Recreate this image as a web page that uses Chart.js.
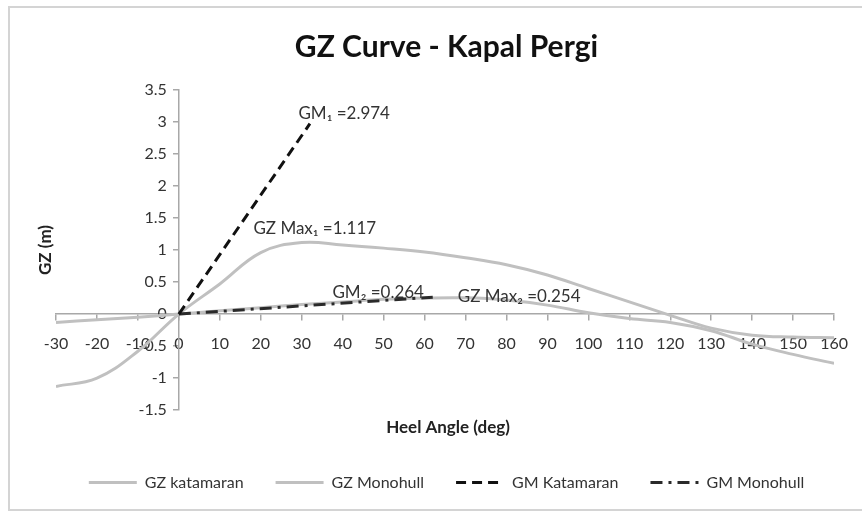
<!DOCTYPE html>
<html>
<head>
<meta charset="utf-8">
<script src="https://cdn.jsdelivr.net/npm/chart.js@4"></script>
<style>
  html, body { margin: 0; padding: 0; background: #fff; }
  #wrap { width: 862px; height: 511px; }
</style>
</head>
<body>
<div id="wrap"><canvas id="gzChart" width="862" height="511"></canvas></div>
<script>
// heel angles (deg)
const angles = [-30, -20, -10, 0, 10, 20, 30, 40, 50, 60, 70, 80, 90, 100, 110, 120, 130, 140, 150, 160];
const gzKatamaran = [-1.13, -1.0, -0.58, 0, 0.47, 0.96, 1.117, 1.08, 1.03, 0.97, 0.88, 0.77, 0.61, 0.4, 0.19, -0.02, -0.22, -0.33, -0.36, -0.37];
const gzMonohull = [-0.13, -0.09, -0.05, 0, 0.05, 0.1, 0.15, 0.19, 0.23, 0.25, 0.254, 0.22, 0.14, 0.02, -0.07, -0.13, -0.26, -0.47, -0.63, -0.77];
// GM lines: start and end points
const gmKatAngles = [0, 32];
const gmKatValues = [0, 2.974];
const gmMonoAngles = [0, 62];
const gmMonoValues = [0, 0.264];

const seriesNames = ["GZ katamaran", "GZ Monohull", "GM Katamaran", "GM Monohull"];

// text labels on the plot, anchored in data units (left edge, middle)
const noteTexts = ["GM\u2081 =2.974", "GZ Max\u2081 =1.117", "GM\u2082 =0.264", "GZ Max\u2082 =0.254"];
const noteX = [29.2, 18.2, 37.5, 68.1];
const noteY = [3.14, 1.34, 0.33, 0.27];

const pts = (xs, ys) => xs.map((x, i) => ({ x: x, y: ys[i] }));

const FONT = "Lato, 'Liberation Sans', sans-serif";
const textColor = "#333333";
const axisColor = "#a8a8a8";

const extras = {
  id: "extras",
  beforeDraw(chart) {
    const c = chart.ctx;
    c.save();
    c.fillStyle = "#fff";
    c.fillRect(0, 0, chart.width, chart.height);
    c.strokeStyle = "#d4d4d4";
    c.lineWidth = 2;
    c.strokeRect(9, 7, 900, 503);
    c.restore();
  },
  afterDraw(chart) {
    const c = chart.ctx;
    const xs = chart.scales.x, ys = chart.scales.y;
    const area = chart.chartArea;
    c.save();
    c.fillStyle = textColor;
    c.font = "17px " + FONT;
    c.textAlign = "left";
    c.textBaseline = "middle";
    noteTexts.forEach((t, i) => {
      c.fillText(t, xs.getPixelForValue(noteX[i]), ys.getPixelForValue(noteY[i]));
    });
    // axis titles
    c.fillStyle = "#222";
    c.font = "bold 17px " + FONT;
    c.textAlign = "center";
    c.fillText("Heel Angle (deg)", 448, area.bottom + 17);
    c.translate(46, 250);
    c.rotate(-Math.PI / 2);
    c.fillText("GZ (m)", 0, 0);
    c.restore();
  }
};

new Chart(document.getElementById("gzChart"), {
  type: "scatter",
  data: {
    datasets: [{
      label: seriesNames[0],
      data: pts(angles, gzKatamaran),
      borderColor: "#c0c0c0",
      borderWidth: 3,
      tension: 0.4,
      order: 1
    }, {
      label: seriesNames[1],
      data: pts(angles, gzMonohull),
      borderColor: "#c0c0c0",
      borderWidth: 3,
      tension: 0.4,
      order: 1
    }, {
      label: seriesNames[2],
      data: pts(gmKatAngles, gmKatValues),
      borderColor: "#111111",
      borderWidth: 3,
      borderDash: [10, 6],
      order: 0
    }, {
      label: seriesNames[3],
      data: pts(gmMonoAngles, gmMonoValues),
      borderColor: "#2a2a2a",
      borderWidth: 3,
      borderDash: [12, 6, 3, 6],
      order: 0
    }].map(d => Object.assign({ showLine: true, pointRadius: 0, pointHoverRadius: 0, fill: false }, d))
  },
  options: {
    responsive: false,
    animation: false,
    layout: { padding: { left: 56, right: 25, top: 0, bottom: 10.5 } },
    plugins: {
      title: {
        display: true,
        text: "GZ Curve - Kapal Pergi",
        color: "#111",
        font: { family: FONT, size: 30, weight: "bold" },
        padding: { top: 29, bottom: 25 }
      },
      legend: {
        position: "bottom",
        // empty title only opens the gap between the plot and the legend row
        title: { display: true, text: "", font: { size: 12 }, padding: { top: 18, bottom: 0 } },
        labels: {
          usePointStyle: true,
          pointStyle: "line",
          pointStyleWidth: 48,
          padding: 32,
          color: textColor,
          font: { family: FONT, size: 16 },
          sort: (a, b) => a.datasetIndex - b.datasetIndex,
          // take dash and width from the dataset line, not the point style
          generateLabels: chart => Chart.defaults.plugins.legend.labels.generateLabels(chart).map(item => {
            const ds = chart.data.datasets[item.datasetIndex];
            item.lineDash = ds.borderDash || [];
            item.lineWidth = ds.borderWidth;
            item.strokeStyle = ds.borderColor;
            return item;
          })
        }
      },
      tooltip: { enabled: false }
    },
    scales: {
      x: {
        type: "linear",
        position: { y: 0 },
        min: -30,
        max: 160,
        afterFit: s => { s.height = 0; },
        grid: { drawOnChartArea: false, color: axisColor, tickLength: 6, lineWidth: 1.5 },
        border: { color: axisColor, width: 1.5 },
        ticks: { stepSize: 10, autoSkip: false, maxRotation: 0, padding: 14, color: textColor, font: { family: FONT, size: 16 } }
      },
      y: {
        type: "linear",
        position: { x: 0 },
        min: -1.5,
        max: 3.5,
        afterFit: s => { s.width = 0; },
        grid: { drawOnChartArea: false, color: axisColor, tickLength: 5, lineWidth: 1.5 },
        border: { color: axisColor, width: 1.5 },
        ticks: {
          stepSize: 0.5,
          color: textColor,
          font: { family: FONT, size: 16 },
          // labels sit right against the axis here, so pad them on the right
          callback: v => String(Math.round(v * 10) / 10) + "\u2002\u2009\u2009"
        }
      }
    }
  },
  plugins: [extras]
});
</script>
</body>
</html>
